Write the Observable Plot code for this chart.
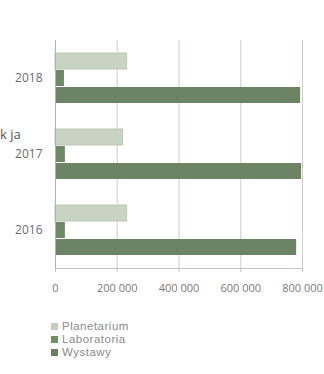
<!DOCTYPE html>
<html>
<head>
<meta charset="utf-8">
<script src="https://cdn.jsdelivr.net/npm/d3@7"></script>
<script src="https://cdn.jsdelivr.net/npm/@observablehq/plot@0.6"></script>
<style>
  html, body { margin: 0; padding: 0; background: #fff; }
  #wrap { position: relative; width: 324px; height: 374px; font-family: "Open Sans", sans-serif; }
  #cut { position: absolute; left: 0; top: 125px; font-size: 13px; color: #555; }
  #legend { position: absolute; left: 51px; top: 320px; font-family: "Liberation Sans", Arial, sans-serif; font-size: 11.5px; letter-spacing: 0.5px; color: #8a8a8a; }
  #legend div { display: flex; align-items: center; height: 13px; line-height: 13px; }
  #legend span.sw { display: inline-block; width: 7px; height: 7px; margin-right: 4px; }
</style>
</head>
<body>
<div id="wrap">
  <div id="chart"></div>
  <div id="cut">k ja</div>
  <div id="legend"></div>
</div>
<script>
const years = ["2018", "2017", "2016"];
const series = ["Planetarium", "Laboratoria", "Wystawy"];
const planetarium = [232000, 219000, 232000];
const laboratoria = [29000, 32000, 32000];
const wystawy = [794000, 797000, 781000];
const xTicks = [0, 200000, 400000, 600000, 800000];
const colors = ["#c9d3c1", "#6e8a65", "#6c8464"];
const legendColors = ["#c5ccc0", "#6f8f62", "#6a7e63"];

const values = {Planetarium: planetarium, Laboratoria: laboratoria, Wystawy: wystawy};
const data = [];
years.forEach((yr, i) => series.forEach(s => data.push({year: yr, series: s, value: values[s][i]})));

const insets = {
  Planetarium: {insetTop: 13, insetBottom: 47},
  Laboratoria: {insetTop: 30, insetBottom: 30},
  Wystawy: {insetTop: 47, insetBottom: 13}
};
const fmt = d => d3.format(",")(d).replace(/,/g, " ");

const chart = Plot.plot({
  width: 324,
  height: 310,
  marginTop: 40,
  marginBottom: 42,
  marginLeft: 55,
  marginRight: 22,
  style: {fontFamily: "Open Sans, sans-serif", background: "transparent"},
  x: {domain: [0, 800000]},
  y: {domain: years, padding: 0},
  color: {domain: series, range: colors},
  marks: [
    Plot.ruleX(xTicks, {stroke: "#d6cbcb", strokeWidth: 1}),
    ...series.map(s => Plot.barX(data.filter(d => d.series === s), {
      x: "value", y: "year", fill: "series",
      stroke: s === "Planetarium" ? "#bcc7b4" : null,
      ...insets[s]
    })),
    Plot.ruleX([0], {stroke: "#b4b0b0"}),
    Plot.frame({anchor: "bottom", stroke: "#c8c2c2"}),
    Plot.axisX({ticks: xTicks, tickFormat: fmt, tickSize: 4, tickPadding: 12, fontSize: 11, color: "#7a7a7a", stroke: "#c8c2c2", label: null}),
    Plot.axisY({tickSize: 0, tickPadding: 13, fontSize: 12, color: "#6a6a6a", label: null})
  ]
});
document.getElementById("chart").appendChild(chart);

const legend = d3.select("#legend");
series.forEach((s, i) => {
  const row = legend.append("div");
  row.append("span").attr("class", "sw").style("background", legendColors[i]);
  row.append("span").text(s);
});
</script>
</body>
</html>
